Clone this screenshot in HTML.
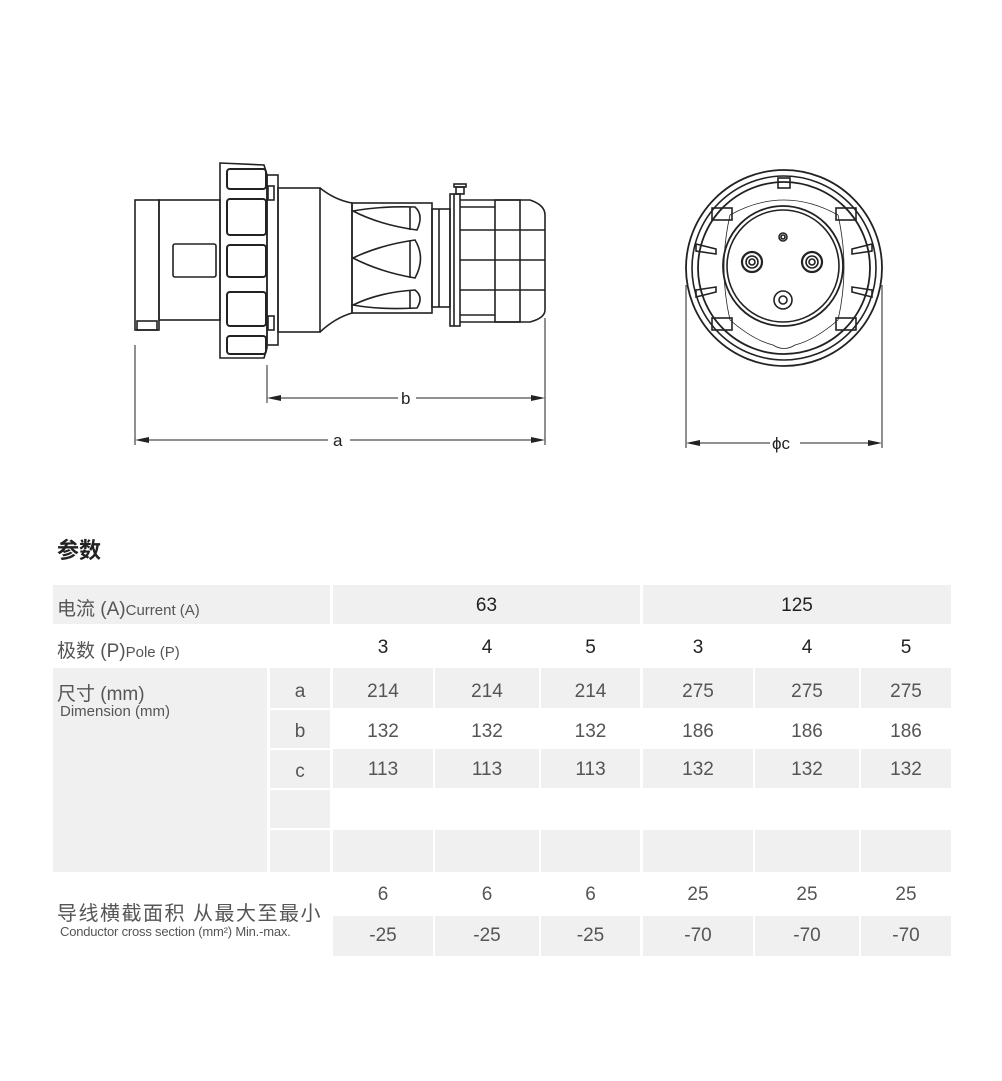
<!DOCTYPE html>
<html><head><meta charset="utf-8"><style>
body{margin:0;background:#fff;width:1002px;height:1081px;position:relative;overflow:hidden;font-family:"Liberation Sans","Noto Sans CJK SC",sans-serif;color:#555}
.c{position:absolute;background:#f0f0f0}
.t{position:absolute;text-align:center;font-size:19px;color:#555}
svg{position:absolute;left:0;top:0}
</style></head><body>
<svg width="1002" height="500" viewBox="0 0 1002 500" fill="none" stroke="#222" stroke-width="1.6">
<!-- side view -->
<rect x="135" y="200" width="24" height="130"/>
<rect x="159" y="200" width="61" height="120"/>
<rect x="137" y="321" width="20" height="9"/>
<rect x="173" y="244" width="43" height="33" rx="2"/>
<path d="M220 163 L264 165 L267 175 L267 348 L264 358 L220 358 Z"/>
<g stroke-width="2">
<rect x="227" y="169" width="39" height="20" rx="3"/>
<rect x="227" y="199" width="39" height="36" rx="3"/>
<rect x="227" y="245" width="39" height="32" rx="3"/>
<rect x="227" y="292" width="39" height="34" rx="3"/>
<rect x="227" y="336" width="39" height="18" rx="3"/>
</g>
<rect x="267" y="175" width="11" height="170"/>
<rect x="268" y="186" width="6" height="14"/><rect x="268" y="316" width="6" height="14"/>
<rect x="278" y="188" width="42" height="144"/>
<path d="M320 188 Q335 200 352 203 L352 313 Q335 318 320 332"/>
<rect x="352" y="203" width="80" height="110"/>
<rect x="432" y="209" width="18" height="98"/><line x1="439" y1="209" x2="439" y2="307"/>
<path d="M353 211 Q380 206 415 207 Q424 215 417 230 Q380 225 353 211Z"/>
<path d="M353 258 Q380 245 415 240 Q426 258 415 278 Q380 272 353 258Z"/>
<path d="M353 305 Q380 292 415 290 Q424 297 417 308 Q380 310 353 305Z"/>
<line x1="410" y1="207" x2="410" y2="230"/><line x1="410" y1="240" x2="410" y2="278"/><line x1="410" y1="290" x2="410" y2="308"/>
<rect x="450" y="194" width="10" height="132"/><line x1="454" y1="194" x2="454" y2="326"/>
<rect x="456" y="187" width="8" height="7"/><rect x="454" y="184" width="12" height="3"/>
<path d="M460 200 L530 200 Q545 205 545 215 L545 310 Q545 318 530 322 L460 322"/>
<rect x="495" y="200" width="25" height="122"/>
<line x1="460" y1="230" x2="545" y2="230"/><line x1="460" y1="260" x2="545" y2="260"/><line x1="460" y1="290" x2="545" y2="290"/>
<line x1="460" y1="207" x2="495" y2="207"/><line x1="460" y1="315" x2="495" y2="315"/>
<!-- dimensions -->
<g stroke-width="1">
<line x1="135" y1="345" x2="135" y2="445"/><line x1="545" y1="318" x2="545" y2="445"/>
<line x1="267" y1="365" x2="267" y2="403"/>
<line x1="140" y1="440" x2="328" y2="440"/><line x1="350" y1="440" x2="540" y2="440"/>
<line x1="272" y1="398" x2="398" y2="398"/><line x1="416" y1="398" x2="540" y2="398"/>
<line x1="686" y1="285" x2="686" y2="448"/><line x1="882" y1="285" x2="882" y2="448"/>
<line x1="691" y1="443" x2="770" y2="443"/><line x1="800" y1="443" x2="877" y2="443"/>
</g>
<g fill="#222" stroke="none">
<path d="M135 440 l14 -3 v6z"/><path d="M545 440 l-14 -3 v6z"/>
<path d="M267 398 l14 -3 v6z"/><path d="M545 398 l-14 -3 v6z"/>
<path d="M686 443 l14 -3 v6z"/><path d="M882 443 l-14 -3 v6z"/>
</g>
<!-- front view -->
<circle cx="784" cy="268" r="98" stroke-width="1.8"/>
<circle cx="784" cy="268" r="92"/>
<circle cx="784" cy="268" r="86" stroke-width="1.8"/>
<path d="M730 215 Q784 185 838 215 Q850 268 838 320 Q815 340 795 345 Q784 352 773 345 Q753 340 730 320 Q718 268 730 215Z" stroke-width="0.8"/>
<circle cx="783" cy="266" r="60" stroke-width="1.8"/>
<circle cx="783" cy="266" r="56"/>
<circle cx="752" cy="262" r="10" stroke-width="2.2"/><circle cx="752" cy="262" r="6"/><circle cx="752" cy="262" r="3"/>
<circle cx="812" cy="262" r="10" stroke-width="2.2"/><circle cx="812" cy="262" r="6"/><circle cx="812" cy="262" r="3"/>
<circle cx="783" cy="300" r="9"/><circle cx="783" cy="300" r="4"/>
<circle cx="783" cy="237" r="4"/><circle cx="783" cy="237" r="2"/>
<rect x="778" y="178" width="12" height="10"/>
<rect x="712" y="208" width="20" height="12"/><rect x="836" y="208" width="20" height="12"/>
<rect x="712" y="318" width="20" height="12"/><rect x="836" y="318" width="20" height="12"/>
<path d="M696 244 l20 5 v5 l-20 -3z"/><path d="M872 244 l-20 5 v5 l20 -3z"/>
<path d="M696 290 l20 -3 v5 l-20 5z"/><path d="M872 290 l-20 -3 v5 l20 5z"/>
</g>
<g fill="#222" stroke="none" font-size="17" font-family="Liberation Sans,sans-serif">
<text x="333" y="446">a</text><text x="401" y="404">b</text><text x="772" y="449">ϕc</text>
</g>
</svg>

<div style="position:absolute;left:57px;top:533px;font-size:22px;font-weight:bold;color:#222">参数</div>

<div class="c" style="left:53px;top:585px;width:277px;height:39px"></div>
<div class="c" style="left:333px;top:585px;width:307px;height:39px"></div>
<div class="c" style="left:643px;top:585px;width:308px;height:39px"></div>
<div class="c" style="left:53px;top:668px;width:214px;height:204px"></div>
<div class="c" style="left:270px;top:668px;width:60px;height:40px"></div>
<div class="c" style="left:270px;top:710px;width:60px;height:38px"></div>
<div class="c" style="left:270px;top:750px;width:60px;height:38px"></div>
<div class="c" style="left:270px;top:790px;width:60px;height:38px"></div>
<div class="c" style="left:270px;top:830px;width:60px;height:42px"></div>
<div class="c" style="left:333px;top:668px;width:100px;height:40px"></div><div class="c" style="left:435px;top:668px;width:104px;height:40px"></div><div class="c" style="left:541px;top:668px;width:99px;height:40px"></div><div class="c" style="left:643px;top:668px;width:110px;height:40px"></div><div class="c" style="left:755px;top:668px;width:104px;height:40px"></div><div class="c" style="left:861px;top:668px;width:90px;height:40px"></div>
<div class="c" style="left:333px;top:749px;width:100px;height:39px"></div><div class="c" style="left:435px;top:749px;width:104px;height:39px"></div><div class="c" style="left:541px;top:749px;width:99px;height:39px"></div><div class="c" style="left:643px;top:749px;width:110px;height:39px"></div><div class="c" style="left:755px;top:749px;width:104px;height:39px"></div><div class="c" style="left:861px;top:749px;width:90px;height:39px"></div>
<div class="c" style="left:333px;top:830px;width:100px;height:42px"></div><div class="c" style="left:435px;top:830px;width:104px;height:42px"></div><div class="c" style="left:541px;top:830px;width:99px;height:42px"></div><div class="c" style="left:643px;top:830px;width:110px;height:42px"></div><div class="c" style="left:755px;top:830px;width:104px;height:42px"></div><div class="c" style="left:861px;top:830px;width:90px;height:42px"></div>
<div class="c" style="left:333px;top:916px;width:100px;height:40px"></div><div class="c" style="left:435px;top:916px;width:104px;height:40px"></div><div class="c" style="left:541px;top:916px;width:99px;height:40px"></div><div class="c" style="left:643px;top:916px;width:110px;height:40px"></div><div class="c" style="left:755px;top:916px;width:104px;height:40px"></div><div class="c" style="left:861px;top:916px;width:90px;height:40px"></div>

<div style="position:absolute;left:57px;top:594px;font-size:19px;white-space:nowrap">电流 (A)<span style="font-size:15px">Current (A)</span></div>
<div style="position:absolute;left:57px;top:636px;font-size:19px;white-space:nowrap">极数 (P)<span style="font-size:15px">Pole (P)</span></div>
<div style="position:absolute;left:57px;top:679px;font-size:19px;white-space:nowrap">尺寸 (mm)</div>
<div style="position:absolute;left:60px;top:703px;font-size:15px;white-space:nowrap">Dimension (mm)</div>
<div style="position:absolute;left:57px;top:897px;font-size:20px;white-space:nowrap;letter-spacing:1.5px">导线横截面积 从最大至最小</div>
<div style="position:absolute;left:60px;top:924px;font-size:13px;white-space:nowrap;letter-spacing:-0.2px">Conductor cross section (mm²) Min.-max.</div>
<div class="t" style="left:270px;top:681px;width:60px">a</div>
<div class="t" style="left:270px;top:721px;width:60px">b</div>
<div class="t" style="left:270px;top:761px;width:60px">c</div>

<div class="t" style="left:333px;top:595px;width:307px;color:#222">63</div>
<div class="t" style="left:643px;top:595px;width:308px;color:#222">125</div>

<div class="t" style="left:333px;top:637px;width:100px;color:#222">3</div><div class="t" style="left:435px;top:637px;width:104px;color:#222">4</div><div class="t" style="left:541px;top:637px;width:99px;color:#222">5</div><div class="t" style="left:643px;top:637px;width:110px;color:#222">3</div><div class="t" style="left:755px;top:637px;width:104px;color:#222">4</div><div class="t" style="left:861px;top:637px;width:90px;color:#222">5</div>
<div class="t" style="left:333px;top:681px;width:100px">214</div><div class="t" style="left:435px;top:681px;width:104px">214</div><div class="t" style="left:541px;top:681px;width:99px">214</div><div class="t" style="left:643px;top:681px;width:110px">275</div><div class="t" style="left:755px;top:681px;width:104px">275</div><div class="t" style="left:861px;top:681px;width:90px">275</div>
<div class="t" style="left:333px;top:721px;width:100px">132</div><div class="t" style="left:435px;top:721px;width:104px">132</div><div class="t" style="left:541px;top:721px;width:99px">132</div><div class="t" style="left:643px;top:721px;width:110px">186</div><div class="t" style="left:755px;top:721px;width:104px">186</div><div class="t" style="left:861px;top:721px;width:90px">186</div>
<div class="t" style="left:333px;top:759px;width:100px">113</div><div class="t" style="left:435px;top:759px;width:104px">113</div><div class="t" style="left:541px;top:759px;width:99px">113</div><div class="t" style="left:643px;top:759px;width:110px">132</div><div class="t" style="left:755px;top:759px;width:104px">132</div><div class="t" style="left:861px;top:759px;width:90px">132</div>
<div class="t" style="left:333px;top:884px;width:100px">6</div><div class="t" style="left:435px;top:884px;width:104px">6</div><div class="t" style="left:541px;top:884px;width:99px">6</div><div class="t" style="left:643px;top:884px;width:110px">25</div><div class="t" style="left:755px;top:884px;width:104px">25</div><div class="t" style="left:861px;top:884px;width:90px">25</div>
<div class="t" style="left:333px;top:925px;width:100px">-25</div><div class="t" style="left:435px;top:925px;width:104px">-25</div><div class="t" style="left:541px;top:925px;width:99px">-25</div><div class="t" style="left:643px;top:925px;width:110px">-70</div><div class="t" style="left:755px;top:925px;width:104px">-70</div><div class="t" style="left:861px;top:925px;width:90px">-70</div>
</body></html>
